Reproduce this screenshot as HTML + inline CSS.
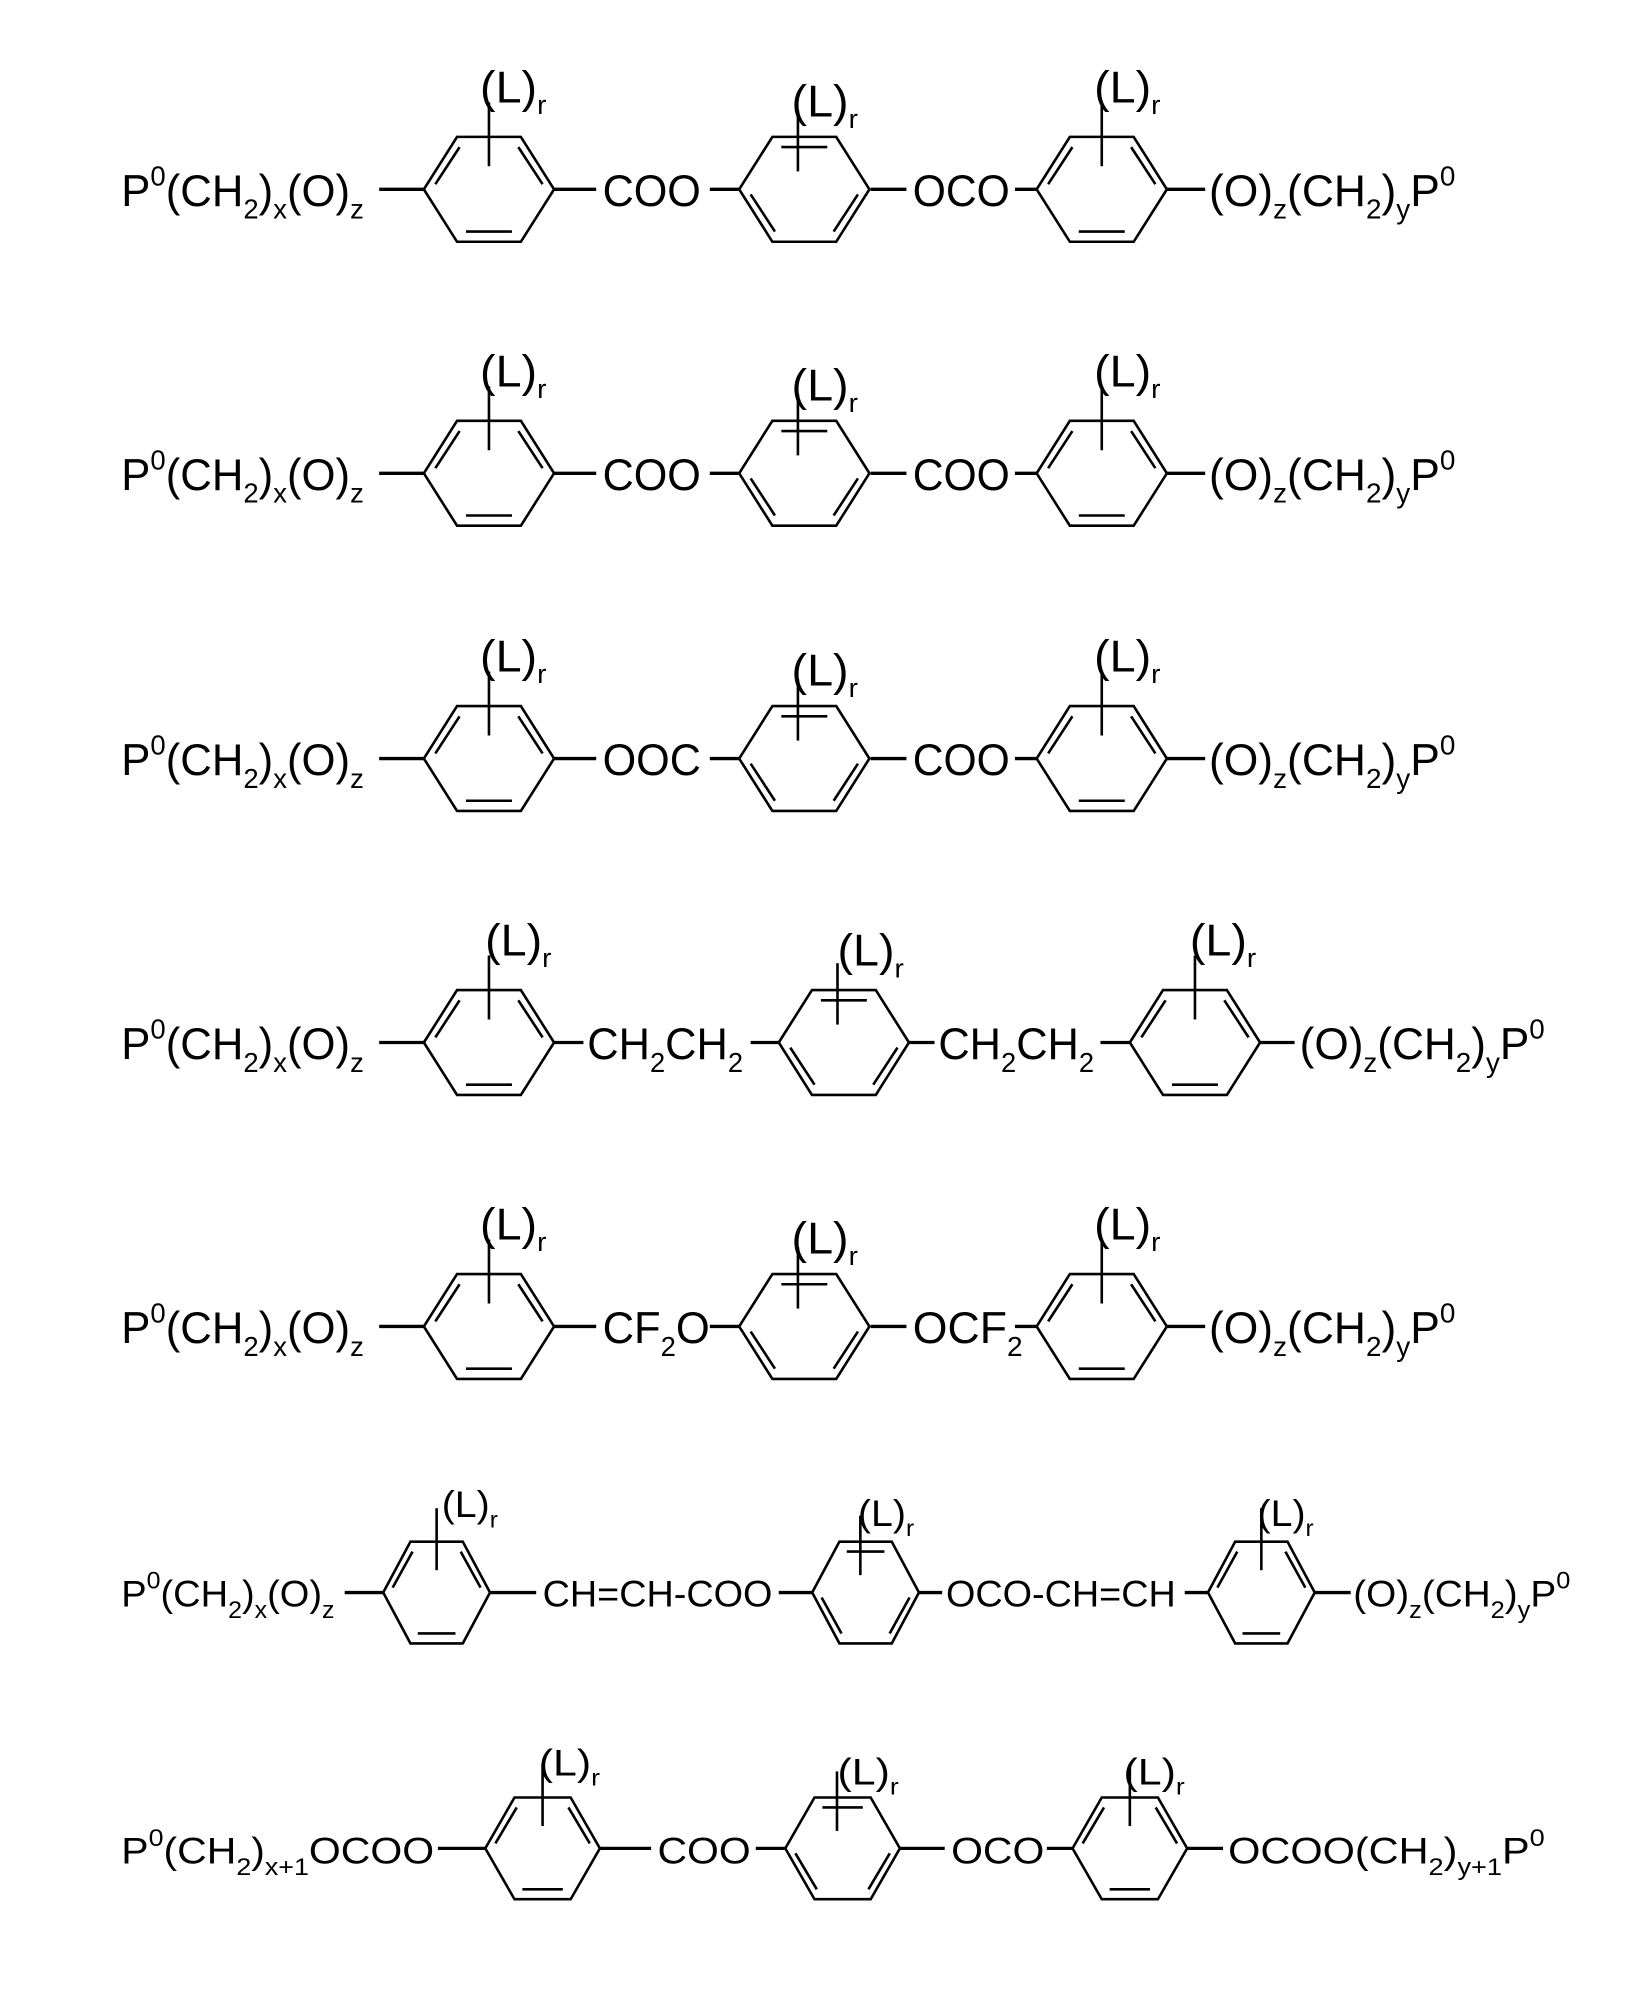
<!DOCTYPE html>
<html><head><meta charset="utf-8"><style>
html,body{margin:0;padding:0;background:#fff;}
svg{display:block;}
text{font-family:"Liberation Sans",Arial,sans-serif;fill:#000;}
</style></head><body>
<svg width="1626" height="2007" viewBox="0 0 1280 1580" preserveAspectRatio="none" xmlns="http://www.w3.org/2000/svg">
<defs>
<g id="rA" fill="none" stroke="#000" stroke-width="2.6">
<polygon points="-51,0 -25,-41 25,-41 51,0 25,41 -25,41" vector-effect="non-scaling-stroke"/>
<line x1="-42" y1="-4" x2="-23" y2="-33" vector-effect="non-scaling-stroke"/>
<line x1="42" y1="-4" x2="23" y2="-33" vector-effect="non-scaling-stroke"/>
<line x1="-18" y1="33" x2="18" y2="33" vector-effect="non-scaling-stroke"/>
<line x1="0" y1="-68" x2="0" y2="-18" vector-effect="non-scaling-stroke"/>
</g>
<g id="rB" fill="none" stroke="#000" stroke-width="2.6">
<polygon points="-51,0 -25,-41 25,-41 51,0 25,41 -25,41" vector-effect="non-scaling-stroke"/>
<line x1="-42" y1="4" x2="-23" y2="33" vector-effect="non-scaling-stroke"/>
<line x1="42" y1="4" x2="23" y2="33" vector-effect="non-scaling-stroke"/>
<line x1="-18" y1="-33" x2="18" y2="-33" vector-effect="non-scaling-stroke"/>
<line x1="-5" y1="-62" x2="-5" y2="-14" vector-effect="non-scaling-stroke"/>
</g>
</defs>
<g transform="scale(1.005,1.007)">
<g stroke="#000" stroke-width="2.6">
<g id="b1">
<line x1="297" y1="148" x2="332" y2="148"/>
<line x1="434" y1="148" x2="467" y2="148"/>
<line x1="556" y1="148" x2="580" y2="148"/>
<line x1="682" y1="148" x2="710" y2="148"/>
<line x1="795" y1="148" x2="812" y2="148"/>
<line x1="914" y1="148" x2="944" y2="148"/>
</g>
<use href="#b1" y="222"/><use href="#b1" y="445"/><use href="#b1" y="889"/>
<line x1="297" y1="815" x2="332" y2="815"/>
<line x1="434" y1="815" x2="457" y2="815"/>
<line x1="588" y1="815" x2="610" y2="815"/>
<line x1="712" y1="815" x2="732" y2="815"/>
<line x1="862" y1="815" x2="886" y2="815"/>
<line x1="986" y1="815" x2="1014" y2="815"/>
<line x1="270" y1="1245" x2="300" y2="1245"/>
<line x1="384" y1="1245" x2="420" y2="1245"/>
<line x1="610" y1="1245" x2="636" y2="1245"/>
<line x1="720" y1="1245" x2="738" y2="1245"/>
<line x1="928" y1="1245" x2="946" y2="1245"/>
<line x1="1030" y1="1245" x2="1058" y2="1245"/>
<line x1="343" y1="1445" x2="380" y2="1445"/>
<line x1="470" y1="1445" x2="510" y2="1445"/>
<line x1="592" y1="1445" x2="615" y2="1445"/>
<line x1="705" y1="1445" x2="740" y2="1445"/>
<line x1="820" y1="1445" x2="840" y2="1445"/>
<line x1="930" y1="1445" x2="958" y2="1445"/>
</g>

<g id="rr">
<use href="#rA" transform="translate(383,148)"/>
<use href="#rB" transform="translate(630,148)"/>
<use href="#rA" transform="translate(863,148)"/>
</g>
<use href="#rr" y="222"/><use href="#rr" y="445"/><use href="#rr" y="889"/>
<use href="#rA" transform="translate(383,815)"/>
<use href="#rB" transform="translate(661,815)"/>
<use href="#rA" transform="translate(936,815)"/>
<use href="#rA" transform="translate(342,1245) scale(0.82,0.97)"/>
<use href="#rB" transform="translate(678,1245) scale(0.82,0.97)"/>
<use href="#rA" transform="translate(988,1245) scale(0.82,0.97)"/>
<use href="#rA" transform="translate(425,1445) scale(0.88,0.97)"/>
<use href="#rB" transform="translate(660,1445) scale(0.88,0.97)"/>
<use href="#rA" transform="translate(885,1445) scale(0.88,0.97)"/>

<g font-size="35">
<g id="lab">
<text x="376" y="80" textLength="52" lengthAdjust="spacingAndGlyphs">(L)<tspan font-size="21" dy="9">r</tspan></text>
<text x="620" y="91" textLength="52" lengthAdjust="spacingAndGlyphs">(L)<tspan font-size="21" dy="9">r</tspan></text>
<text x="857" y="80" textLength="52" lengthAdjust="spacingAndGlyphs">(L)<tspan font-size="21" dy="9">r</tspan></text>
<text x="95" y="161" textLength="190" lengthAdjust="spacingAndGlyphs">P<tspan font-size="22" dy="-16">0</tspan><tspan dy="16">(CH</tspan><tspan font-size="22" dy="10">2</tspan><tspan dy="-10">)</tspan><tspan font-size="22" dy="10">x</tspan><tspan dy="-10">(O)</tspan><tspan font-size="22" dy="10">z</tspan></text>
<text x="947" y="161" textLength="193" lengthAdjust="spacingAndGlyphs">(O)<tspan font-size="22" dy="10">z</tspan><tspan dy="-10">(CH</tspan><tspan font-size="22" dy="10">2</tspan><tspan dy="-10">)</tspan><tspan font-size="22" dy="10">y</tspan><tspan dy="-10">P</tspan><tspan font-size="22" dy="-16">0</tspan></text>
</g>
<use href="#lab" y="222"/><use href="#lab" y="445"/><use href="#lab" y="889"/>
<text x="472" y="161" textLength="77" lengthAdjust="spacingAndGlyphs">COO</text>
<text x="715" y="161" textLength="76" lengthAdjust="spacingAndGlyphs">OCO</text>
<text x="472" y="383" textLength="77" lengthAdjust="spacingAndGlyphs">COO</text>
<text x="715" y="383" textLength="76" lengthAdjust="spacingAndGlyphs">COO</text>
<text x="472" y="606" textLength="77" lengthAdjust="spacingAndGlyphs">OOC</text>
<text x="715" y="606" textLength="76" lengthAdjust="spacingAndGlyphs">COO</text>
<text x="472" y="1050" textLength="84" lengthAdjust="spacingAndGlyphs">CF<tspan font-size="22" dy="10">2</tspan><tspan dy="-10">O</tspan></text>
<text x="715" y="1050" textLength="86" lengthAdjust="spacingAndGlyphs">OCF<tspan font-size="22" dy="10">2</tspan></text>

<text x="380" y="747" textLength="52" lengthAdjust="spacingAndGlyphs">(L)<tspan font-size="21" dy="9">r</tspan></text>
<text x="656" y="755" textLength="52" lengthAdjust="spacingAndGlyphs">(L)<tspan font-size="21" dy="9">r</tspan></text>
<text x="932" y="747" textLength="52" lengthAdjust="spacingAndGlyphs">(L)<tspan font-size="21" dy="9">r</tspan></text>
<text x="95" y="828" textLength="190" lengthAdjust="spacingAndGlyphs">P<tspan font-size="22" dy="-16">0</tspan><tspan dy="16">(CH</tspan><tspan font-size="22" dy="10">2</tspan><tspan dy="-10">)</tspan><tspan font-size="22" dy="10">x</tspan><tspan dy="-10">(O)</tspan><tspan font-size="22" dy="10">z</tspan></text>
<text x="460" y="828" textLength="122" lengthAdjust="spacingAndGlyphs">CH<tspan font-size="22" dy="10">2</tspan><tspan dy="-10">CH</tspan><tspan font-size="22" dy="10">2</tspan></text>
<text x="735" y="828" textLength="122" lengthAdjust="spacingAndGlyphs">CH<tspan font-size="22" dy="10">2</tspan><tspan dy="-10">CH</tspan><tspan font-size="22" dy="10">2</tspan></text>
<text x="1018" y="828" textLength="192" lengthAdjust="spacingAndGlyphs">(O)<tspan font-size="22" dy="10">z</tspan><tspan dy="-10">(CH</tspan><tspan font-size="22" dy="10">2</tspan><tspan dy="-10">)</tspan><tspan font-size="22" dy="10">y</tspan><tspan dy="-10">P</tspan><tspan font-size="22" dy="-16">0</tspan></text>
</g>

<g font-size="29">
<text x="346" y="1186" textLength="44" lengthAdjust="spacingAndGlyphs">(L)<tspan font-size="18" dy="8">r</tspan></text>
<text x="672" y="1193" textLength="44" lengthAdjust="spacingAndGlyphs">(L)<tspan font-size="18" dy="8">r</tspan></text>
<text x="985" y="1193" textLength="44" lengthAdjust="spacingAndGlyphs">(L)<tspan font-size="18" dy="8">r</tspan></text>
<text x="95" y="1256" textLength="167" lengthAdjust="spacingAndGlyphs">P<tspan font-size="19" dy="-14">0</tspan><tspan dy="14">(CH</tspan><tspan font-size="19" dy="9">2</tspan><tspan dy="-9">)</tspan><tspan font-size="19" dy="9">x</tspan><tspan dy="-9">(O)</tspan><tspan font-size="19" dy="9">z</tspan></text>
<text x="425" y="1256" textLength="180" lengthAdjust="spacingAndGlyphs">CH=CH-COO</text>
<text x="741" y="1256" textLength="180" lengthAdjust="spacingAndGlyphs">OCO-CH=CH</text>
<text x="1060" y="1256" textLength="170" lengthAdjust="spacingAndGlyphs">(O)<tspan font-size="19" dy="9">z</tspan><tspan dy="-9">(CH</tspan><tspan font-size="19" dy="9">2</tspan><tspan dy="-9">)</tspan><tspan font-size="19" dy="9">y</tspan><tspan dy="-9">P</tspan><tspan font-size="19" dy="-14">0</tspan></text>
<text x="422" y="1388" textLength="48" lengthAdjust="spacingAndGlyphs">(L)<tspan font-size="18" dy="8">r</tspan></text>
<text x="656" y="1395" textLength="48" lengthAdjust="spacingAndGlyphs">(L)<tspan font-size="18" dy="8">r</tspan></text>
<text x="880" y="1395" textLength="48" lengthAdjust="spacingAndGlyphs">(L)<tspan font-size="18" dy="8">r</tspan></text>
<text x="95" y="1457" textLength="245" lengthAdjust="spacingAndGlyphs">P<tspan font-size="19" dy="-14">0</tspan><tspan dy="14">(CH</tspan><tspan font-size="19" dy="9">2</tspan><tspan dy="-9">)</tspan><tspan font-size="19" dy="9">x+1</tspan><tspan dy="-9">OCOO</tspan></text>
<text x="515" y="1457" textLength="73" lengthAdjust="spacingAndGlyphs">COO</text>
<text x="745" y="1457" textLength="73" lengthAdjust="spacingAndGlyphs">OCO</text>
<text x="962" y="1457" textLength="248" lengthAdjust="spacingAndGlyphs">OCOO(CH<tspan font-size="19" dy="9">2</tspan><tspan dy="-9">)</tspan><tspan font-size="19" dy="9">y+1</tspan><tspan dy="-9">P</tspan><tspan font-size="19" dy="-14">0</tspan></text>
</g>
</g>
</svg>
</body></html>
